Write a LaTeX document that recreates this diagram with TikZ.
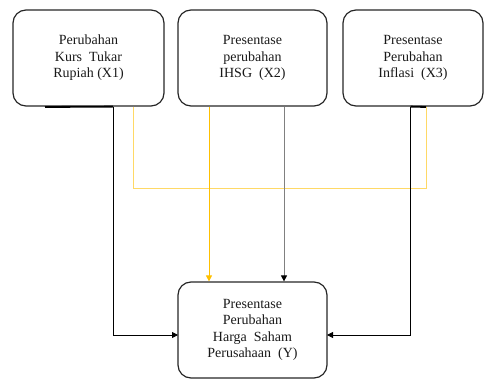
\documentclass[tikz,border=0pt]{standalone}
\usepackage{fontspec}
\setmainfont{Liberation Serif}
\usetikzlibrary{arrows.meta}
\definecolor{ylw}{HTML}{FFC000}
\definecolor{ylwlight}{HTML}{FFD966}
\begin{document}
\begin{tikzpicture}[x=1pt,y=-1pt,
  box/.style={draw=black!85, line width=1.2pt, rounded corners=13pt, align=center,
    font=\fontsize{14}{16.5}\selectfont, text=black!90, inner sep=0pt},
  arr/.style={line width=0.8pt, -{Triangle[length=6pt,width=6pt]}},
  lnk/.style={line width=0.8pt}]
\useasboundingbox (0,0) rectangle (484,379);
\node[box, minimum width=151pt, minimum height=96pt] (x1) at (88.5,58) {Perubahan\\Kurs\ \ Tukar\\Rupiah (X1)};
\node[box, minimum width=149pt, minimum height=96pt] (x2) at (252.5,58) {Presentase\\perubahan\\IHSG\ \ (X2)};
\node[box, minimum width=140pt, minimum height=96pt] (x3) at (413,58) {Presentase\\Perubahan\\Inflasi\ \ (X3)};
\node[box, minimum width=149pt, minimum height=96pt] (y) at (252.5,330) {Presentase\\Perubahan\\Harga\ \ Saham\\Perusahaan\ \ (Y)};
% coordinates for connector columns / rows
\coordinate (c1) at (113,335);
\coordinate (c1y) at (133,188);
\coordinate (c2y) at (209,0);
\coordinate (c2g) at (284,0);
\coordinate (c3) at (410.5,335);
\coordinate (c3y) at (426,188);
\coordinate (yl) at (178,335);
\coordinate (yr) at (327,335);
\coordinate (t1) at (45,107);
\coordinate (t3) at (426,107);
% thick stubs under boxes
\draw[line width=1.8pt] (t1) -- (x1.south -| c1);
\draw[line width=1.8pt] (x3.south -| c3) -- (t3);
% yellow link X1 -- X3
\draw[lnk, ylwlight] (x1.south -| c1y) -- (c1y) -- (c3y) -- (x3.south -| c3y);
% arrows into Y
\draw[arr] (x1.south -| c1) -- (c1) -- (yl);
\draw[arr] (x3.south -| c3) -- (c3) -- (yr);
\draw[arr, ylw] (x2.south -| c2y) -- (y.north -| c2y);
\draw[lnk, gray, -{Triangle[length=6pt,width=6pt,color=black]}] (x2.south -| c2g) -- (y.north -| c2g);
\end{tikzpicture}
\end{document}
